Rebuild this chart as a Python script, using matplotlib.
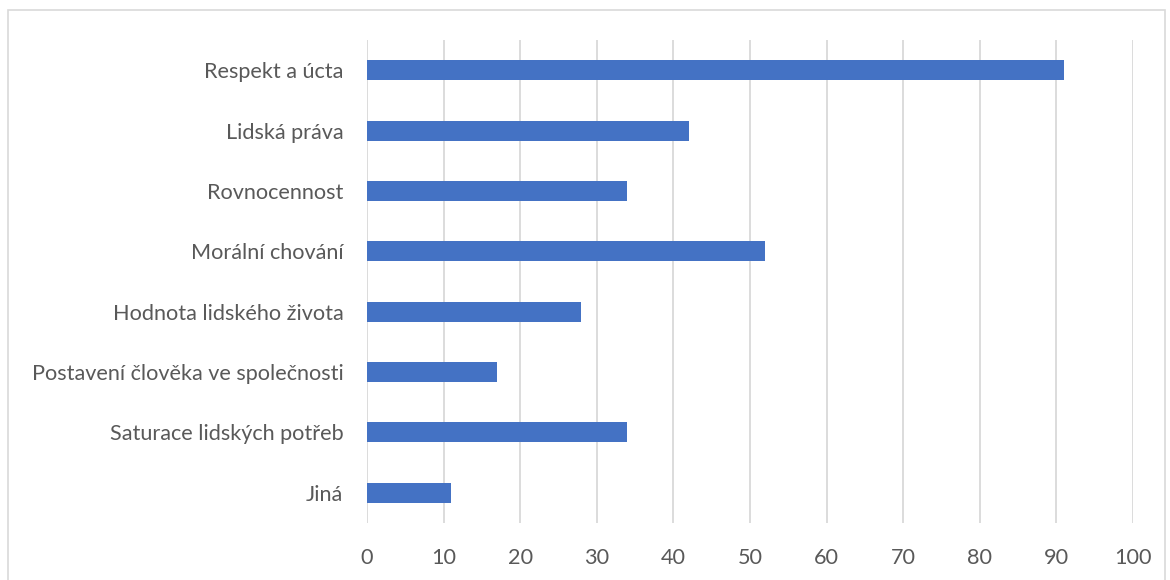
import matplotlib.pyplot as plt
from matplotlib.patches import Rectangle

categories = [
    'Respekt a úcta',
    'Lidská práva',
    'Rovnocennost',
    'Morální chování',
    'Hodnota lidského života',
    'Postavení člověka ve společnosti',
    'Saturace lidských potřeb',
    'Jiná',
]
values = [91, 42, 34, 52, 28, 17, 34, 11]
xticks = [0, 10, 20, 30, 40, 50, 60, 70, 80, 90, 100]

plt.rcParams['font.family'] = ['Lato', 'DejaVu Sans']

fig = plt.figure(figsize=(11.7, 5.8), dpi=100)
ax = fig.add_axes([367 / 1170, 1 - 523 / 580, (1133 - 367) / 1170, (523 - 40) / 580])

y = list(range(len(categories)))
ax.barh(y, values, height=0.33, color='#4472c4', zorder=3)
ax.set_ylim(len(categories) - 0.5, -0.5)
ax.set_yticks(y)
ax.set_yticklabels(categories)
ax.set_xlim(0, 100)
ax.set_xticks(xticks)
ax.grid(axis='x', color='#d9d9d9', linewidth=1.3, zorder=0)
for s in ax.spines.values():
    s.set_visible(False)
ax.tick_params(length=0, labelsize=15.6, colors='#595959')
ax.tick_params(axis='y', pad=17)
ax.tick_params(axis='x', pad=18)

fig.patches.append(Rectangle((8 / 1170, -0.01), (1165 - 8) / 1170, 1 - 10 / 580 + 0.01,
                             transform=fig.transFigure, fill=False,
                             edgecolor='#d9d9d9', linewidth=1.2))

fig.savefig('out.png', dpi=100)
